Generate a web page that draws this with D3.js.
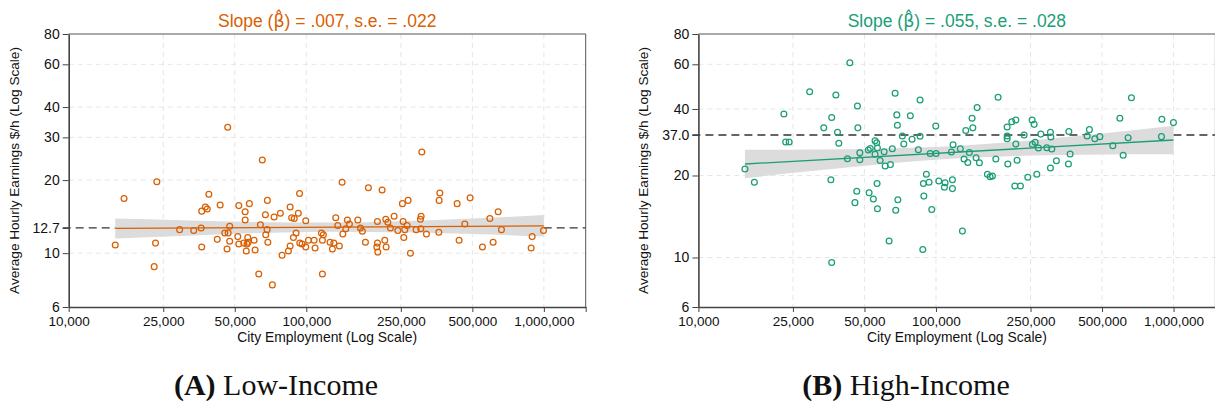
<!DOCTYPE html>
<html>
<head>
<meta charset="utf-8">
<script src="https://cdn.jsdelivr.net/npm/d3@7"></script>
<style>
  body { margin: 0; background: #fff; }
  svg { display: block; }
</style>
</head>
<body>
<svg id="chart" width="1215" height="405"></svg>
<script>
// ---------- data ----------
const xTickValues = [10000, 25000, 50000, 100000, 250000, 500000, 1000000, 1500000];
const xTickLabels = ["10,000", "25,000", "50,000", "100,000", "250,000", "500,000", "1,000,000", ""];

const lowYTicks  = [6, 10, 12.7, 20, 30, 40, 60, 80];
const lowYLabels = ["6", "10", "12.7", "20", "30", "40", "60", "80"];
const lowGrid    = [10, 20, 30, 40, 60];
const lowMean    = 12.7;

const highYTicks  = [6, 10, 20, 37.0, 40, 60, 80];
const highYLabels = ["6", "10", "20", "37.0", "40", "60", "80"];
const highGrid    = [10, 20, 40, 60];
const highMean    = 37.0;

const lowTitle  = ["Slope (", "\u03B2\u0302", ") = .007, s.e. = .022"];
const highTitle = ["Slope (", "\u03B2\u0302", ") = .055, s.e. = .028"];
const lowCaption  = ["(A)", " Low-Income"];
const highCaption = ["(B)", " High-Income"];

// Panel A: low-income workers, city employment vs average hourly earnings
const lowEmp = [46700, 65300, 306400, 23500, 17100, 38900, 52000, 57600, 68600, 43400,
  37600, 38300, 36300, 55300, 67300, 73200, 77800, 85500, 86800, 89000,
  92600, 93700, 55300, 64100, 29300, 33600, 36100, 47600, 46900, 45400,
  68400, 67500, 90600, 88300, 51500, 56700, 42200, 47600, 60300, 68900,
  54600, 56300, 52000, 56900, 23200, 15700, 36300, 46400, 55900, 60900,
  85500, 84100, 93900, 79100, 22900, 63100, 72000, 141500, 182600, 208500,
  364800, 362400, 268300, 253900, 489300, 431500, 642100, 592500, 133100, 149000,
  164800, 199300, 216100, 220400, 234300, 255600, 265700, 304400, 302300, 151900,
  135700, 99500, 146700, 169000, 226000, 172200, 242800, 259800, 290000, 303400,
  320400, 361300, 464900, 663000, 996100, 892800, 142500, 115800, 118000, 102100,
  107900, 116900, 125900, 130600, 177400, 214000, 257300, 199300, 96000, 99500,
  108900, 128800, 137800, 198100, 216800, 200000, 274400, 439800, 551400, 611700,
  884200, 116900];
const lowWage = [33.0, 24.2, 26.1, 19.7, 16.8, 17.5, 15.7, 16.0, 16.5, 15.8,
  15.5, 15.2, 14.9, 14.8, 14.4, 14.1, 14.6, 15.5, 14.0, 13.9,
  14.6, 17.6, 13.7, 13.1, 12.5, 12.4, 12.7, 12.9, 12.1, 12.1,
  12.5, 11.9, 12.1, 11.6, 11.7, 11.6, 11.4, 11.2, 11.3, 11.1,
  11.0, 10.9, 10.9, 11.1, 11.0, 10.8, 10.6, 10.4, 10.2, 10.3,
  10.7, 10.2, 11.0, 9.8, 8.8, 8.2, 7.4, 19.6, 18.6, 18.2,
  17.7, 16.5, 16.5, 16.0, 16.9, 16.0, 14.8, 13.9, 14.0, 13.7,
  13.7, 13.5, 13.8, 13.4, 14.2, 13.5, 13.0, 14.2, 13.8, 13.2,
  13.0, 13.6, 12.6, 12.7, 12.7, 12.3, 12.4, 12.5, 12.5, 12.6,
  12.0, 12.2, 13.2, 12.5, 12.4, 11.7, 12.0, 12.1, 11.9, 11.3,
  11.3, 11.3, 11.1, 11.0, 11.1, 11.3, 11.6, 11.0, 10.9, 10.6,
  10.5, 10.4, 10.7, 10.6, 10.6, 10.1, 10.0, 11.3, 10.6, 11.1,
  10.5, 8.2];

// Panel B: high-income workers
const highEmp = [43400, 29400, 37900, 67300, 22900, 46700, 36400, 68400, 78000, 33700,
  46900, 68800, 38500, 72200, 23300, 24100, 39000, 73200, 55400, 56300,
  56700, 51900, 52900, 47800, 60500, 65500, 55400, 42400, 47800, 58200,
  61100, 64300, 15700, 85700, 182600, 664800, 149000, 141900, 142900, 133500,
  99800, 79300, 85700, 84300, 94500, 100100, 116100, 118000, 126600, 138200,
  131300, 136100, 147500, 152300, 178600, 199300, 208500, 216800, 199300, 199300,
  216800, 235000, 200600, 219500, 253900, 258900, 254600, 261400, 269900, 276200,
  303200, 304400, 292800, 307300, 303200, 321300, 361000, 366900, 362400, 432600,
  442400, 466200, 489300, 594200, 643900, 555100, 613500, 892800, 889400, 999000,
  17200, 36100, 46400, 45600, 56500, 52300, 54500, 56700, 69100, 67700,
  63500, 36400, 91100, 88500, 93500, 102800, 109200, 108500, 117300, 117300,
  88900, 96000, 129200, 88000, 164600, 169000, 172800, 214700, 226700, 243500,
  265700];
const highWage = [60.9, 46.8, 45.4, 46.1, 39.4, 41.1, 39.0, 39.3, 39.2, 37.8,
  37.8, 38.1, 37.3, 36.4, 33.3, 33.3, 32.6, 32.3, 33.9, 32.9,
  30.4, 29.5, 30.1, 28.3, 28.7, 30.0, 27.6, 25.8, 25.4, 25.1,
  23.1, 23.6, 22.1, 43.4, 44.5, 44.3, 40.5, 38.9, 37.8, 37.5,
  38.0, 34.7, 36.3, 29.6, 27.9, 27.9, 28.6, 31.9, 30.0, 28.4,
  25.7, 24.4, 26.2, 24.3, 25.7, 37.9, 38.5, 38.7, 36.4, 35.0,
  32.3, 37.0, 23.8, 25.2, 38.7, 38.2, 32.1, 33.1, 30.4, 37.1,
  37.3, 35.9, 30.5, 29.9, 22.4, 25.0, 23.8, 27.7, 37.4, 36.4,
  37.6, 35.0, 36.1, 38.9, 35.5, 31.4, 27.2, 38.8, 36.1, 38.4,
  18.9, 19.3, 17.5, 15.9, 18.7, 17.3, 16.4, 15.1, 16.3, 14.9,
  11.5, 9.5, 20.4, 18.7, 18.9, 19.1, 18.8, 18.1, 19.3, 17.9,
  16.8, 15.0, 12.5, 10.7, 20.4, 19.8, 19.9, 18.3, 18.3, 19.7,
  20.4];

// Fitted lines and 95% confidence bands
const fitEmp      = [15700, 1000000];
const lowFitWage  = [12.64, 12.96];
const highFitWage = [23.81, 34.29];
const bandEmp     = [15700, 30000, 60000, 125000, 250000, 500000, 1000000];
const lowBandHi   = [13.90, 13.68, 13.45, 13.37, 13.55, 13.89, 14.35];
const lowBandLo   = [11.50, 11.77, 12.07, 12.25, 12.19, 11.99, 11.70];
const highBandHi  = [29.55, 29.68, 30.14, 31.45, 34.09, 37.17, 38.03];
const highBandLo  = [19.55, 21.38, 23.81, 25.97, 27.06, 27.51, 27.66];

// ---------- layout ----------
const plotTop = 34, plotBottom = 307, plotWidth = 517;
const sans = "'Liberation Sans', Arial, Helvetica, sans-serif";
const serif = "'Liberation Serif', 'DejaVu Serif', serif";

// Panel B's axis spacing: each labelled value and its fraction of the plot height
const highAxisStops = [0, 0.1813, 0.4817, 0.63, 0.7253, 0.889, 1];

const svg = d3.select("#chart");

const panels = [
  {
    x0: 68.7, color: "#d95f02", title: lowTitle, caption: lowCaption, captionX: 276,
    emp: lowEmp, wage: lowWage, fitWage: lowFitWage, bandHi: lowBandHi, bandLo: lowBandLo,
    yTicks: lowYTicks, yLabels: lowYLabels, grid: lowGrid, mean: lowMean,
    y: d3.scaleLog().domain([6, 80]).range([plotBottom, plotTop])
  },
  {
    x0: 698.4, color: "#1b9e77", title: highTitle, caption: highCaption, captionX: 906,
    emp: highEmp, wage: highWage, fitWage: highFitWage, bandHi: highBandHi, bandLo: highBandLo,
    yTicks: highYTicks, yLabels: highYLabels, grid: highGrid, mean: highMean,
    y: d3.scaleLog().domain(highYTicks)
          .range(highAxisStops.map(f => plotBottom - f * (plotBottom - plotTop)))
  }
];

panels.forEach(p => {
  const x = d3.scaleLog().domain([10000, 1500000]).range([p.x0, p.x0 + plotWidth]);
  const y = p.y;
  const g = svg.append("g");
  const x1 = p.x0 + plotWidth;

  // gridlines
  g.append("g").selectAll("line").data(p.grid).join("line")
    .attr("x1", p.x0).attr("x2", x1)
    .attr("y1", d => y(d)).attr("y2", d => y(d))
    .attr("stroke", "#e6e6e6").attr("stroke-width", 1).attr("stroke-dasharray", "5,4");
  g.append("g").selectAll("line").data(xTickValues.slice(1, 7)).join("line")
    .attr("x1", d => x(d)).attr("x2", d => x(d))
    .attr("y1", plotTop).attr("y2", plotBottom)
    .attr("stroke", "#e6e6e6").attr("stroke-width", 1).attr("stroke-dasharray", "5,4");

  // mean reference line
  g.append("line")
    .attr("x1", p.x0 - 6).attr("x2", x1)
    .attr("y1", y(p.mean)).attr("y2", y(p.mean))
    .attr("stroke", "#333").attr("stroke-width", 1.3).attr("stroke-dasharray", "8,5");

  // confidence band
  const band = bandEmp.map((e, i) => ({ e, lo: p.bandLo[i], hi: p.bandHi[i] }));
  g.append("path").datum(band)
    .attr("d", d3.area().x(d => x(d.e)).y0(d => y(d.lo)).y1(d => y(d.hi)).curve(d3.curveMonotoneX))
    .attr("fill", "#dcdcdc");

  // fitted line
  const fit = fitEmp.map((e, i) => ({ e, w: p.fitWage[i] }));
  g.append("path").datum(fit)
    .attr("d", d3.line().x(d => x(d.e)).y(d => y(d.w)))
    .attr("fill", "none").attr("stroke", p.color).attr("stroke-width", 1.3);

  // cities
  g.append("g").selectAll("circle").data(p.emp).join("circle")
    .attr("cx", d => x(d)).attr("cy", (d, i) => y(p.wage[i]))
    .attr("r", 2.9).attr("fill", "none")
    .attr("stroke", p.color).attr("stroke-width", 1.25);

  // frame (top and right)
  g.append("path")
    .attr("d", `M${p.x0},${plotTop}H${x1}V${plotBottom}`)
    .attr("fill", "none").attr("stroke", "#555").attr("stroke-width", 1);

  // axes
  const yAxis = g.append("g").attr("transform", `translate(${p.x0},0)`)
    .call(d3.axisLeft(y).tickValues(p.yTicks)
      .tickFormat((d, i) => p.yLabels[i]).tickSize(6).tickSizeOuter(0).tickPadding(3));
  const xAxis = g.append("g").attr("transform", `translate(0,${plotBottom})`)
    .call(d3.axisBottom(x).tickValues(xTickValues)
      .tickFormat((d, i) => xTickLabels[i]).tickSize(5).tickSizeOuter(0).tickPadding(4.5));
  yAxis.attr("font-size", 14);
  xAxis.attr("font-size", 13.5);
  [yAxis, xAxis].forEach(a => {
    a.attr("font-family", sans);
    a.selectAll("text").attr("fill", "#111");
    a.selectAll("line").attr("stroke", "#444").attr("stroke-width", 1);
    a.select(".domain").attr("stroke", "#444").attr("stroke-width", 1.6);
  });

  // axis titles
  g.append("text")
    .attr("transform", `translate(${p.x0 - 50},${(plotTop + plotBottom) / 2}) rotate(-90)`)
    .attr("text-anchor", "middle").attr("font-family", sans).attr("font-size", 13.6)
    .attr("fill", "#111").text("Average Hourly Earnings $/h (Log Scale)");
  g.append("text")
    .attr("x", p.x0 + plotWidth / 2).attr("y", 342)
    .attr("text-anchor", "middle").attr("font-family", sans).attr("font-size", 13.9)
    .attr("fill", "#111").text("City Employment (Log Scale)");

  // panel title
  const t = g.append("text")
    .attr("x", p.x0 + plotWidth / 2).attr("y", 27)
    .attr("text-anchor", "middle").attr("font-family", sans).attr("font-size", 17.5)
    .attr("fill", p.color);
  t.append("tspan").text(p.title[0]);
  t.append("tspan").attr("font-family", "'DejaVu Sans', sans-serif").text(p.title[1]);
  t.append("tspan").text(p.title[2]);

  // caption under the panel
  const cap = g.append("text")
    .attr("x", p.captionX).attr("y", 395)
    .attr("text-anchor", "middle").attr("font-family", serif).attr("font-size", 30)
    .attr("fill", "#111");
  cap.append("tspan").attr("font-weight", "bold").text(p.caption[0]);
  cap.append("tspan").text(p.caption[1]);
});
</script>
</body>
</html>
